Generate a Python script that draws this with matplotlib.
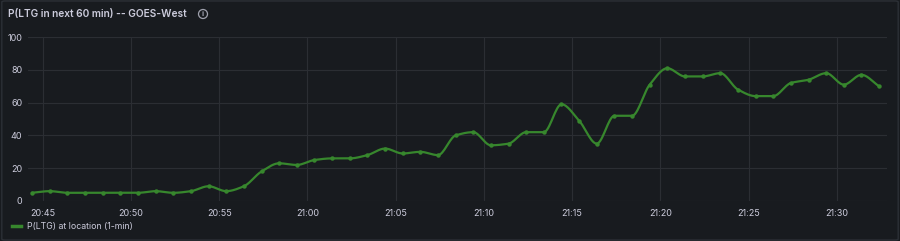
import numpy as np
import pandas as pd
import matplotlib
matplotlib.use('Agg')
import matplotlib.pyplot as plt
import matplotlib.dates as mdates
from matplotlib.patches import FancyBboxPatch, Circle

# data (one sample per minute)
start_time = '2024-01-01 20:44:24'
p_ltg = [5, 6, 5, 5, 5, 5, 5, 6, 5, 6,
         9, 6, 9, 18, 23, 22, 25, 26, 26, 28,
         32, 29, 30, 28, 40, 42, 34, 35, 42, 42,
         59, 49, 35, 52, 52, 71, 81, 76, 76, 78,
         68, 64, 64, 72, 74, 78, 71, 77, 70]
times = pd.date_range(start_time, periods=len(p_ltg), freq='1min')
y_ticks = [0, 20, 40, 60, 80, 100]

title = 'P(LTG in next 60 min) -- GOES-West'
series_name = 'P(LTG) at location (1-min)'

bg = '#181b1f'
text_col = '#ccccdc'
grid_col = '#2b2e33'
green = '#37872d'


def smooth(x, y, n=16):
    # monotone cubic (like grafana "smooth" line)
    x = np.asarray(x, float)
    y = np.asarray(y, float)
    h = np.diff(x)
    d = np.diff(y) / h
    m = np.zeros_like(y)
    for k in range(1, len(y) - 1):
        if d[k - 1] * d[k] > 0:
            w1 = 2 * h[k] + h[k - 1]
            w2 = h[k] + 2 * h[k - 1]
            m[k] = (w1 + w2) / (w1 / d[k - 1] + w2 / d[k])
    m[0] = d[0]
    m[-1] = d[-1]
    xs, ys = [], []
    for k in range(len(x) - 1):
        t = np.linspace(0, 1, n, endpoint=False)
        h00 = 2 * t**3 - 3 * t**2 + 1
        h10 = t**3 - 2 * t**2 + t
        h01 = -2 * t**3 + 3 * t**2
        h11 = t**3 - t**2
        xs.append(x[k] + t * h[k])
        ys.append(h00 * y[k] + h10 * h[k] * m[k] + h01 * y[k + 1] + h11 * h[k] * m[k + 1])
    xs.append([x[-1]])
    ys.append([y[-1]])
    return np.concatenate(xs), np.concatenate(ys)


plt.rcParams['font.family'] = ['Inter', 'DejaVu Sans']

fig = plt.figure(figsize=(9, 2.41), dpi=100, facecolor=bg)
fig.patches.append(FancyBboxPatch((0.002, 0.004), 0.996, 0.992,
                                  boxstyle='round,pad=0,rounding_size=0.004',
                                  transform=fig.transFigure, facecolor='none',
                                  edgecolor='#2c3036', linewidth=1, zorder=-1))

ax = fig.add_axes([0.0311, 0.166, 0.9545, 0.68])
ax.set_facecolor(bg)

xn = mdates.date2num(times)
sx, sy = smooth(xn, p_ltg)
ax.plot(sx, sy, color=green, lw=1.6, solid_capstyle='round')
ax.plot(xn, p_ltg, 'o', color=green, ms=3.2, mew=0)

ax.set_xlim(mdates.date2num(pd.Timestamp('2024-01-01 20:44:10')),
            mdates.date2num(pd.Timestamp('2024-01-01 21:32:51')))
ax.set_ylim(0, 100)
ax.set_yticks(y_ticks)
ax.xaxis.set_major_locator(mdates.MinuteLocator(byminute=range(0, 60, 5)))
ax.xaxis.set_major_formatter(mdates.DateFormatter('%H:%M'))

for s in ax.spines.values():
    s.set_visible(False)
ax.grid(True, color=grid_col, lw=0.8)
ax.set_axisbelow(True)
ax.tick_params(axis='both', length=0, colors=text_col, labelsize=6.5)
ax.tick_params(axis='y', pad=4)
ax.tick_params(axis='x', pad=6)

fig.text(8 / 900, 1 - 14 / 241, title, color=text_col, fontsize=7.3,
         fontweight='semibold', va='center', ha='left')

# info icon
fig.patches.append(Circle((203 / 100, (241 - 14) / 100), 0.045,
                          transform=fig.dpi_scale_trans, facecolor='none',
                          edgecolor='#9fa1ad', linewidth=0.9))
fig.text(203 / 900, 1 - 14.3 / 241, 'i', color='#9fa1ad', fontsize=5.5,
         fontweight='bold', va='center', ha='center')

# legend
fig.lines.append(plt.Line2D([12 / 900, 21 / 900], [1 - 226 / 241] * 2,
                            transform=fig.transFigure, color=green, lw=2.5))
fig.text(27 / 900, 1 - 226 / 241, series_name, color=text_col, fontsize=6.3,
         va='center', ha='left')

fig.savefig('out.png', dpi=100, facecolor=bg)
